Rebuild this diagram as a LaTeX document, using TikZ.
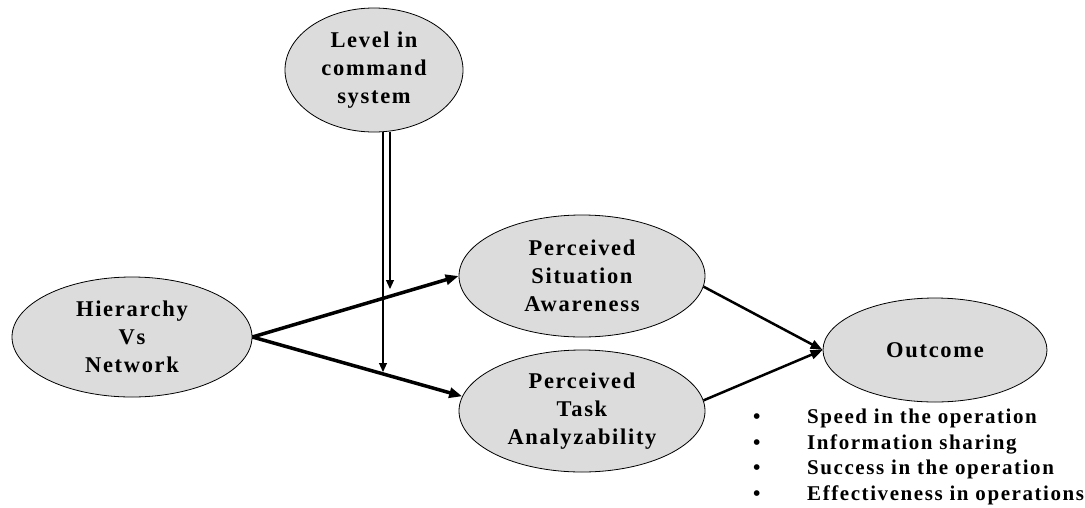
\documentclass[tikz,border=0pt]{standalone}
\usepackage{fontspec}
\setmainfont{Liberation Serif}[LetterSpace=7.5]
\usetikzlibrary{shapes.geometric,arrows.meta}
\definecolor{ovalgray}{RGB}{220,220,220}
\begin{document}
\begin{tikzpicture}[x=1pt,y=-1pt,
	ovalnode/.style={ellipse, draw=black, fill=ovalgray, line width=0.8pt, inner sep=0pt, align=center, font=\fontsize{22.5}{28}\selectfont\bfseries},
	boldarrow/.style={-{Triangle[length=13pt,width=10pt]}, line width=3.5pt},
	midarrow/.style={-{Triangle[length=12pt,width=9pt]}, line width=2.5pt},
	thinarrow/.style={-{Triangle[length=9pt,width=8pt]}, line width=1.1pt},
	]
	\useasboundingbox (0,0) rectangle (1085,507);
	
	%Nodes
	\node[ovalnode, minimum width=178pt, minimum height=124pt] (level) at (374,70) {Level in\\command\\system};
	\node[ovalnode, minimum width=240pt, minimum height=120pt] (hier) at (132,337) {Hierarchy\\Vs\\Network};
	\node[ovalnode, minimum width=246pt, minimum height=122pt] (sa) at (582,276) {Perceived\\Situation\\Awareness};
	\node[ovalnode, minimum width=246pt, minimum height=122pt] (ta) at (582,411) {Perceived\\Task\\Analyzability};
	\node[ovalnode, minimum width=224pt, minimum height=104pt] (outcome) at (935,350) {Outcome};
	\node[anchor=west, align=left, inner sep=0pt, font=\fontsize{21}{25.5}\selectfont\bfseries] (measures) at (753,457)
		{\makebox[54pt][l]{•}Speed in the operation\\
		 \makebox[54pt][l]{•}Information sharing\\
		 \makebox[54pt][l]{•}Success in the operation\\
		 \makebox[54pt][l]{•}Effectiveness in operations};
	\coordinate (lowtip) at (383,372);
	\coordinate (hightip) at (390,289);
	
	%Lines
	\draw[boldarrow] (hier.east) -- (sa.west);
	\draw[boldarrow] (hier.east) -- (ta.173);
	\draw[thinarrow] (level.south -| lowtip) -- (lowtip);
	\draw[thinarrow] (level.south -| hightip) -- (hightip);
	\draw[midarrow] (sa.-5) -- (outcome.west);
	\draw[midarrow] (ta.5) -- (outcome.west);
	
\end{tikzpicture}
\end{document}
